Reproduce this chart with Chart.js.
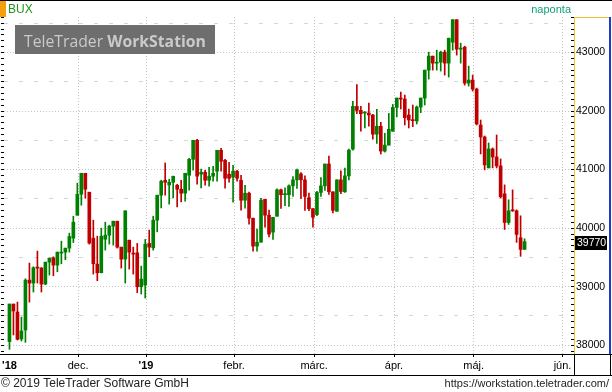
<!DOCTYPE html>
<html><head><meta charset="utf-8">
<script src="https://cdn.jsdelivr.net/npm/chart.js@4.4.1/dist/chart.umd.min.js"></script>
<style>html,body{margin:0;padding:0;background:#fff;overflow:hidden}canvas{display:block}</style>
</head><body><canvas id="c" width="612" height="392"></canvas>
<script>
// Daily BUX candles (index 0 = first visible trading day)
const openP  = [38062,38704,38568,38107,38261,39113,39062,39335,39318,39045,39420,39494,39369,39574,39591,39659,39829,40221,40579,40937,40614,39829,39386,39238,39812,39880,40034,40119,39676,39471,39795,39574,39579,38999,39028,39739,39664,40136,40563,40818,40738,40784,40733,40665,40597,40904,41176,41500,40921,40955,40818,40887,40972,41330,41159,40921,40870,40972,40818,40477,40597,40170,39693,39761,40494,40222,39932,40203,40655,40571,40571,40723,40825,40927,40825,40520,40333,40232,40610,40723,41096,40621,40288,40825,40621,40893,41350,42079,42011,41966,41966,41932,41605,41740,41316,41418,41655,42062,42222,42205,41932,41853,41830,42068,42222,42699,42938,42818,42835,43006,42818,43176,43560,43057,43091,42477,42529,42375,41762,41557,41029,41353,41216,41063,40586,40097,40313,40296,39836,39637];
const highP  = [38704,38704,38738,38482,39136,39403,39341,39608,39330,39420,39488,39511,39591,39778,39659,39915,40204,40767,40937,40937,40614,40136,39863,39999,40102,40051,40119,40119,39676,40296,39795,39676,39739,39352,39807,39966,40205,40563,40820,41113,40835,40887,40750,40818,40938,41193,41500,41517,41011,40989,41040,41057,41330,41364,41176,41125,41074,40989,40904,40733,40614,40170,39983,40511,40494,40307,40186,40672,40667,40689,40740,40881,41011,40949,40893,40599,40333,40627,40864,41096,41232,40621,40825,40978,41028,41350,42164,42452,42079,41989,42136,41944,42028,41808,41621,41960,42113,42222,42324,42273,42034,42103,42085,42222,42699,43006,42938,43040,43023,43040,43244,43560,43560,43159,43108,42767,42614,42392,41847,41574,41455,41370,41591,41182,40739,40484,40654,40313,40211,39819];
const lowP   = [37931,38176,38090,38073,38050,38738,38909,39062,38909,39034,39198,39187,39255,39392,39460,39591,39755,40221,40392,40511,39727,39216,39102,39238,39625,39727,39710,39659,39318,39062,39301,39216,38897,38875,38806,39511,39625,39937,40346,40563,40409,40517,40363,40449,40460,40648,40989,40750,40687,40733,40716,40801,40801,40972,40682,40784,40443,40801,40307,40341,40068,39608,39608,39761,40017,39852,39808,40203,40339,40384,40373,40542,40678,40503,40305,40299,40017,40215,40542,40644,40576,40260,40288,40588,40610,40825,41333,41955,41655,41712,41740,41520,41446,41266,41299,41418,41655,41900,42034,41762,41711,41733,41779,41972,42103,42546,42699,42699,42682,42614,42580,43040,42955,42818,42443,42426,42341,41762,41268,40995,41029,41029,41029,40518,39978,40063,40285,39757,39519,39637];
const closeP = [38704,38585,38102,38244,39113,39062,39324,39318,39045,39420,39488,39369,39591,39591,39659,39858,40102,40579,40937,40665,39744,39392,39238,39863,39880,40034,40119,39676,39471,40296,39591,39557,38999,39130,39727,39676,40136,40563,40801,40784,40784,40887,40665,40597,40938,41176,41500,40887,40955,40818,40887,40938,41330,41142,40852,40852,40972,40852,40477,40597,40170,39693,39761,40477,40222,39898,40186,40655,40571,40588,40723,40825,40994,40825,40542,40333,40186,40610,40723,41096,40621,40305,40825,40627,40893,41333,42079,42011,41955,41983,41932,41605,41740,41316,41418,41689,42062,42222,42205,41887,41847,41836,42068,42222,42699,42938,42818,42835,43006,42818,43244,43560,43057,43074,42477,42529,42375,41779,41557,41080,41353,41216,41063,40535,40097,40296,40296,39893,39637,39770];
const monthLabels = ["'18","dec.","'19","febr.","márc.","ápr.","máj.","jún."];
const monthTicks  = [0, 17.2, 34.2, 56.25, 76.3, 96.3, 116.25, 138.5];
const seriesName = 'BUX';
const periodName = 'naponta';

const FONT = '"Liberation Sans", Arial, sans-serif';
const GREEN = '#008000', RED = '#c00000';
const Y_MIN = 37851, Y_MAX = 43606;

const up = openP.map((o, i) => closeP[i] >= o);
const colors = up.map(u => u ? GREEN : RED);
const bodies = openP.map((o, i) => ({x: i, y: [o, closeP[i]]}));
const wicks = lowP.map((l, i) => ({x: i, y: [l, highP[i]]}));

const deco = {
  id: 'deco',
  beforeDatasetsDraw(chart) {
    const c = chart.ctx;
    c.save();
    c.fillStyle = '#6e6e6e';
    c.fillRect(15, 25, 200, 29);
    const t1 = 'TeleTrader ', t2 = 'WorkStation';
    let size = 19;
    const fam = '"Open Sans", "Liberation Sans", sans-serif';
    c.font = `normal ${size}px ${fam}`; let w1 = c.measureText(t1).width;
    c.font = `bold ${size}px ${fam}`; let w2 = c.measureText(t2).width;
    size = size * 182 / (w1 + w2);
    c.font = `normal ${size}px ${fam}`; w1 = c.measureText(t1).width;
    c.fillStyle = '#cacaca';
    c.textBaseline = 'alphabetic';
    c.fillText(t1, 24, 47);
    c.font = `bold ${size}px ${fam}`;
    c.fillText(t2, 24 + w1, 47);
    c.restore();
  },
  afterDraw(chart) {
    const c = chart.ctx;
    c.save();
    // top strip
    c.fillStyle = '#000'; c.fillRect(0, 0, 612, 1);
    c.fillStyle = '#f5a00a'; c.fillRect(0, 1, 6, 16);
    c.font = `12px ${FONT}`; c.textBaseline = 'middle';
    c.fillStyle = '#1e961e'; c.textAlign = 'left'; c.fillText(seriesName, 8, 9.5);
    c.font = `11px ${FONT}`;
    c.fillStyle = '#14a07a'; c.textAlign = 'right'; c.fillText(periodName, 571, 9.5);
    // right axis panel
    c.fillStyle = '#f2c02e';
    c.fillRect(574, 17, 36, 1);
    c.fillRect(574, 17, 1, 337);
    c.fillStyle = '#1a3cd0'; c.fillRect(609, 17, 2, 337);
    // frames
    c.fillStyle = '#000';
    c.fillRect(0, 354, 612, 1);
    c.fillRect(574, 354, 1, 21);
    c.fillRect(610, 354, 1, 21);
    c.fillRect(0, 375, 612, 1);
    // close label
    const ys = chart.scales.y;
    const last = closeP[closeP.length - 1];
    const yc = Math.round(ys.getPixelForValue(last)) + 1;
    c.fillStyle = '#000'; c.fillRect(575, yc - 7, 32, 14);
    c.fillStyle = '#fff'; c.textAlign = 'left'; c.font = `10.5px ${FONT}`;
    c.fillText(String(last), 577, yc);
    // footer
    c.fillStyle = '#222'; c.textBaseline = 'middle';
    c.font = `12px ${FONT}`; c.textAlign = 'left';
    c.fillText('© 2019 TeleTrader Software GmbH', 1, 384);
    c.font = `11px ${FONT}`; c.textAlign = 'right';
    c.fillText('https://workstation.teletrader.com/', 609, 384);
    c.restore();
  }
};

const isYearLabel = i => (monthLabels[i] || '').startsWith("'");

new Chart(document.getElementById('c'), {
  type: 'bar',
  data: {
    datasets: [
      {label: 'body', data: bodies, backgroundColor: colors, barThickness: 3, minBarLength: 1, grouped: false, yAxisID: 'y', borderWidth: 0},
      {label: 'wick', data: wicks, backgroundColor: colors, barThickness: 1, minBarLength: 1, grouped: false, yAxisID: 'y', borderWidth: 0}
    ]
  },
  options: {
    responsive: false, animation: false, devicePixelRatio: 1,
    layout: {padding: {top: 17, bottom: 17, left: 0, right: 0}},
    plugins: {legend: {display: false}, tooltip: {enabled: false}, title: {display: false}},
    scales: {
      x: {
        type: 'linear', position: 'bottom', min: -1.375, max: 140.625, offset: false,
        afterBuildTicks: s => { s.ticks = monthTicks.map(v => ({value: v})); },
        afterFit: s => { s.height = 21; },
        grid: {
          offset: false,
          color: ctx => (ctx.index === 0 ? 'rgba(0,0,0,0)' : '#c2c2c2'),
          tickColor: ctx => (ctx.index === 0 ? 'rgba(0,0,0,0)' : '#000'),
          tickLength: 3, lineWidth: 1
        },
        border: {display: false, dash: [1, 2]},
        ticks: {
          autoSkip: false, maxRotation: 0, padding: 2, color: '#000',
          font: ctx => ({family: FONT, size: 11, weight: isYearLabel(ctx.index) ? 'bold' : 'normal'}),
          callback: (v, i) => monthLabels[i]
        }
      },
      y: {
        type: 'linear', position: 'right', min: Y_MIN, max: Y_MAX,
        afterFit: s => { s.width = 41; },
        ticks: {
          stepSize: 100, includeBounds: false, autoSkip: false, padding: 2, color: '#000',
          font: {family: FONT, size: 10.5},
          callback: v => (Math.round(v) % 1000 === 0 ? String(Math.round(v)) : '')
        },
        grid: {
          color: ctx => {
            if (!ctx.tick) return 'rgba(0,0,0,0)';
            const v = Math.round(ctx.tick.value);
            return v % 1000 === 0 ? '#c2c2c2' : (v % 500 === 0 ? '#d6d6d6' : 'rgba(0,0,0,0)');
          },
          tickColor: '#000', tickLength: 3
        },
        border: {display: false, dash: ctx => (ctx.tick && Math.round(ctx.tick.value) % 1000 !== 0 ? [4, 11] : [1, 2])}
      },
      yL: {
        type: 'linear', position: 'left', min: Y_MIN, max: Y_MAX,
        afterFit: s => { s.width = 3; },
        ticks: {display: false, stepSize: 100, includeBounds: false, autoSkip: false},
        grid: {drawOnChartArea: false, tickColor: '#000', tickLength: 3},
        border: {display: false}
      }
    }
  },
  plugins: [deco]
});
</script>
</body></html>
